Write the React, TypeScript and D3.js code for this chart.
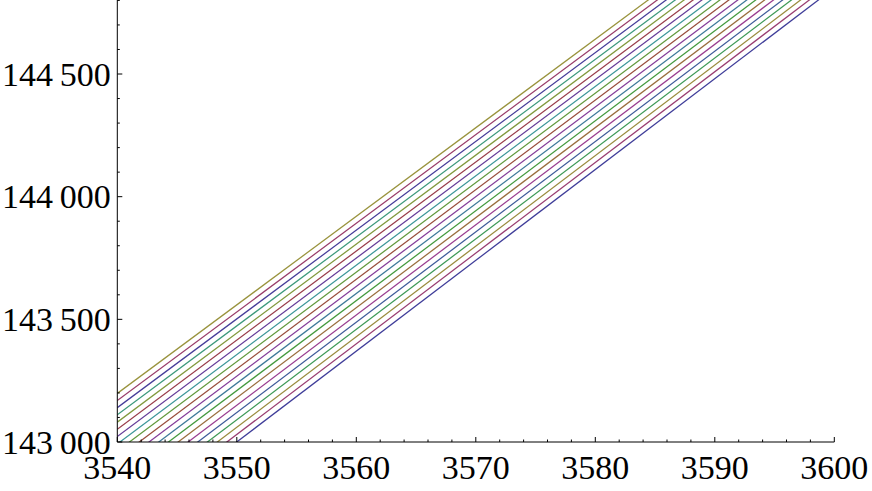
import React from "react";
import * as d3 from "d3";

// x positions at which each series was read (line endpoints, clipped to the plot)
const xSamples = [3540, 3600];

// Series values (20 curves), read at x = 3540 and x = 3600
const series1 = [142630, 144851];
const series2 = [142661, 144879];
const series3 = [142691, 144906];
const series4 = [142722, 144934];
const series5 = [142752, 144961];
const series6 = [142782, 144989];
const series7 = [142813, 145016];
const series8 = [142843, 145043];
const series9 = [142873, 145070];
const series10 = [142903, 145097];
const series11 = [142933, 145124];
const series12 = [142963, 145151];
const series13 = [142992, 145178];
const series14 = [143022, 145205];
const series15 = [143052, 145231];
const series16 = [143081, 145258];
const series17 = [143111, 145284];
const series18 = [143140, 145311];
const series19 = [143169, 145337];
const series20 = [143198, 145364];

const allSeries = [
  series1, series2, series3, series4, series5, series6, series7, series8, series9, series10,
  series11, series12, series13, series14, series15, series16, series17, series18, series19, series20,
];

const xMajorTicks = [3540, 3550, 3560, 3570, 3580, 3590, 3600];
const xMinorTicks = d3.range(3540, 3601, 2).filter((v) => v % 10 !== 0);
const yMajorTicks = [143000, 143500, 144000, 144500];
const yMinorTicks = d3.range(143000, 144801, 100).filter((v) => v % 500 !== 0);

const colors = [
  "rgb(63,61,153)", "rgb(153,61,113)", "rgb(153,139,61)", "rgb(61,153,86)", "rgb(61,90,153)",
  "rgb(153,61,144)", "rgb(153,109,61)", "rgb(67,153,61)", "rgb(61,121,153)", "rgb(132,61,153)",
  "rgb(153,78,61)", "rgb(98,153,61)", "rgb(61,151,153)", "rgb(101,61,153)", "rgb(153,61,75)",
  "rgb(129,153,61)", "rgb(61,153,124)", "rgb(70,61,153)", "rgb(153,61,106)", "rgb(153,147,61)",
];

const W = 872;
const H = 491;
const left = 117.3;
const right = 834.3;
const bottom = 442;
const top = 0;

function fmtY(v: number): string {
  const s = String(v);
  return s.slice(0, 3) + "\u2009" + s.slice(3);
}

export default function App() {
  const x = d3.scaleLinear().domain([3540, 3600]).range([left, right]);
  const y = d3.scaleLinear().domain([143000, 144801.7]).range([bottom, top]);
  const line = d3
    .line<number>()
    .x((_, i) => x(xSamples[i]))
    .y((d) => y(d));
  const font = "'Liberation Serif', 'Times New Roman', serif";
  return (
    <svg
      width={W}
      height={H}
      style={{ position: "absolute", left: 0, top: 0, background: "#fff" }}
    >
      <defs>
        <clipPath id="plot">
          <rect x={left} y={0} width={right - left} height={bottom} />
        </clipPath>
      </defs>
      <g clipPath="url(#plot)">
        {allSeries.map((s, i) => (
          <path
            key={i}
            d={line(s) || ""}
            fill="none"
            stroke={colors[i]}
            strokeWidth={1.25}
          />
        ))}
      </g>
      {/* axes */}
      <g stroke="#000" strokeWidth={1}>
        <line x1={left} x2={left} y1={0} y2={bottom} />
        <line x1={left} x2={right} y1={bottom} y2={bottom} />
        {xMajorTicks.map((t) => (
          <line key={"xM" + t} x1={x(t)} x2={x(t)} y1={bottom} y2={bottom - 5} />
        ))}
        {xMinorTicks.map((t) => (
          <line key={"xm" + t} x1={x(t)} x2={x(t)} y1={bottom} y2={bottom - 2.5} />
        ))}
        {yMajorTicks.map((t) => (
          <line key={"yM" + t} x1={left} x2={left + 5} y1={y(t)} y2={y(t)} />
        ))}
        {yMinorTicks.map((t) => (
          <line key={"ym" + t} x1={left} x2={left + 2.5} y1={y(t)} y2={y(t)} />
        ))}
      </g>
      <g fontFamily={font} fontSize={34} fill="#000">
        {xMajorTicks.map((t) => (
          <text key={"xl" + t} x={x(t)} y={479} textAnchor="middle">
            {t}
          </text>
        ))}
        {yMajorTicks.map((t) => (
          <text key={"yl" + t} x={110.7} y={y(t) + 11.5} textAnchor="end">
            {fmtY(t)}
          </text>
        ))}
      </g>
    </svg>
  );
}
